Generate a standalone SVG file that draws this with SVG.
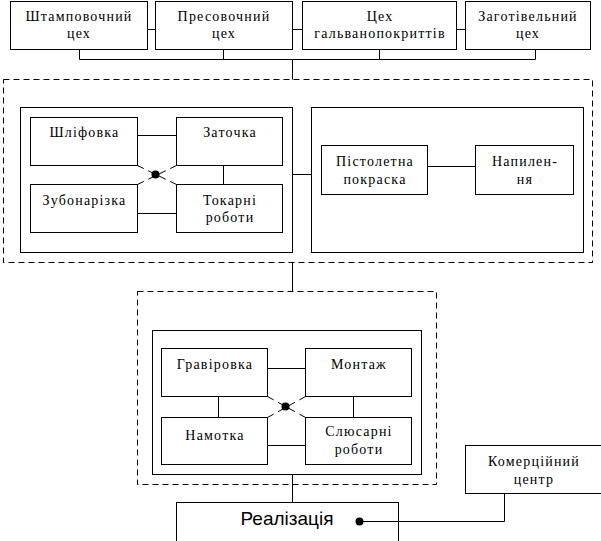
<svg xmlns="http://www.w3.org/2000/svg" width="601" height="541" viewBox="0 0 601 541">
<style>
  rect { fill: #fff; stroke: #000; stroke-width: 1; }
  .frame { fill: none; }
  .dash { fill: none; stroke: #000; stroke-width: 1; stroke-dasharray: 6 4; }
  .ln { fill: none; stroke: #000; stroke-width: 1; }
  .x { fill: none; stroke: #000; stroke-width: 1; stroke-dasharray: 7 5 19.4 5 7; }
  text { font-family: "Liberation Serif", "Times New Roman", serif; font-size: 14px; letter-spacing: 1.2px; text-anchor: middle; fill: #000; }
  .sans { font-family: "Liberation Sans", Arial, sans-serif; font-size: 19px; letter-spacing: 0; }
</style>
<rect x="0" y="0" width="601" height="541" style="fill:#fff;stroke:none"/>

<g id="shtampovochnyi">
  <rect x="10.5" y="1.5" width="137" height="48"/>
  <text x="79" y="21">Штамповочний</text>
  <text x="79" y="38">цех</text>
</g>
<g id="presovochnyi">
  <rect x="155.5" y="1.5" width="137" height="48"/>
  <text x="224" y="21">Пресовочний</text>
  <text x="224" y="38">цех</text>
</g>
<g id="galvano">
  <rect x="302.5" y="1.5" width="154" height="48"/>
  <text x="380" y="21">Цех</text>
  <text x="380" y="38">гальванопокриттів</text>
</g>
<g id="zagotivelnyi">
  <rect x="465.5" y="1.5" width="125" height="48"/>
  <text x="528" y="21">Заготівельний</text>
  <text x="528" y="38">цех</text>
</g>

<g id="group1">
  <rect class="dash" x="3.5" y="79.5" width="589" height="183"/>
</g>
<g id="mech">
  <rect class="frame" x="20.5" y="107.5" width="272" height="145"/>
</g>
<g id="shlifovka">
  <rect x="30.5" y="117.5" width="107" height="48"/>
  <text x="84.5" y="137">Шліфовка</text>
</g>
<g id="zatochka">
  <rect x="176.5" y="117.5" width="106" height="48"/>
  <text x="230" y="137">Заточка</text>
</g>
<g id="zubonarizka">
  <rect x="30.5" y="184.5" width="107" height="48"/>
  <text x="84.5" y="205">Зубонарізка</text>
</g>
<g id="tokarni">
  <rect x="176.5" y="184.5" width="106" height="48"/>
  <text x="230" y="205">Токарні</text>
  <text x="230" y="222">роботи</text>
</g>
<g id="coating">
  <rect class="frame" x="311.5" y="107.5" width="272" height="145"/>
</g>
<g id="pistoletna">
  <rect x="321.5" y="145.5" width="106" height="49"/>
  <text x="375" y="166">Пістолетна</text>
  <text x="375" y="184">покраска</text>
</g>
<g id="napylennia">
  <rect x="475.5" y="145.5" width="98" height="49"/>
  <text x="525" y="166">Напилен-</text>
  <text x="525" y="184">ня</text>
</g>

<g id="group2">
  <rect class="dash" x="137.5" y="291.5" width="299" height="193"/>
</g>
<g id="assembly">
  <rect class="frame" x="152.5" y="330.5" width="269" height="144"/>
</g>
<g id="graviruvka">
  <rect x="161.5" y="348.5" width="106" height="48"/>
  <text x="215" y="369">Гравіровка</text>
</g>
<g id="montazh">
  <rect x="305.5" y="348.5" width="106" height="48"/>
  <text x="359" y="369">Монтаж</text>
</g>
<g id="namotka">
  <rect x="161.5" y="417.5" width="106" height="47"/>
  <text x="215" y="440">Намотка</text>
</g>
<g id="sliusarni">
  <rect x="305.5" y="417.5" width="106" height="47"/>
  <text x="359" y="436">Слюсарні</text>
  <text x="359" y="454">роботи</text>
</g>

<g id="realizatsiia">
  <rect x="176.5" y="502.5" width="222" height="50"/>
  <text class="sans" x="287" y="525">Реалізація</text>
</g>
<g id="komertsiinyi">
  <rect x="465.5" y="445.5" width="140" height="48"/>
  <text x="534" y="466">Комерційний</text>
  <text x="534" y="484">центр</text>
</g>

<g id="connectors">
  <path class="ln" d="M147.5 29.5H155.5 M292.5 29.5H302.5 M456.5 29.5H465.5"/>
  <path class="ln" d="M79.5 49.5V59.5 M223.5 49.5V59.5 M379.5 49.5V59.5 M535.5 49.5V59.5 M79.5 59.5H535.5 M292.5 59.5V79.5"/>
  <path class="ln" d="M137.5 135.5H176.5 M223.5 165.5V184.5 M137.5 213.5H176.5"/>
  <path class="x" d="M137.5 165.5L176.5 184.5 M137.5 184.5L176.5 165.5"/>
  <circle cx="155.5" cy="174.5" r="4" fill="#000"/>
  <path class="ln" d="M292.5 174.5H311.5 M427.5 166.5H475.5"/>
  <path class="ln" d="M292.5 262.5V291.5"/>
  <path class="ln" d="M267.5 368.5H305.5 M218.5 396.5V417.5 M353.5 396.5V417.5 M267.5 445.5H305.5"/>
  <path class="x" d="M267.5 396.5L305.5 417.5 M267.5 417.5L305.5 396.5"/>
  <circle cx="285.5" cy="406.5" r="4" fill="#000"/>
  <path class="ln" d="M292.5 474.5V502.5"/>
  <path class="ln" d="M359.5 521.5H504.5V493.5"/>
  <circle cx="359.5" cy="521.5" r="4" fill="#000"/>
</g>
</svg>
